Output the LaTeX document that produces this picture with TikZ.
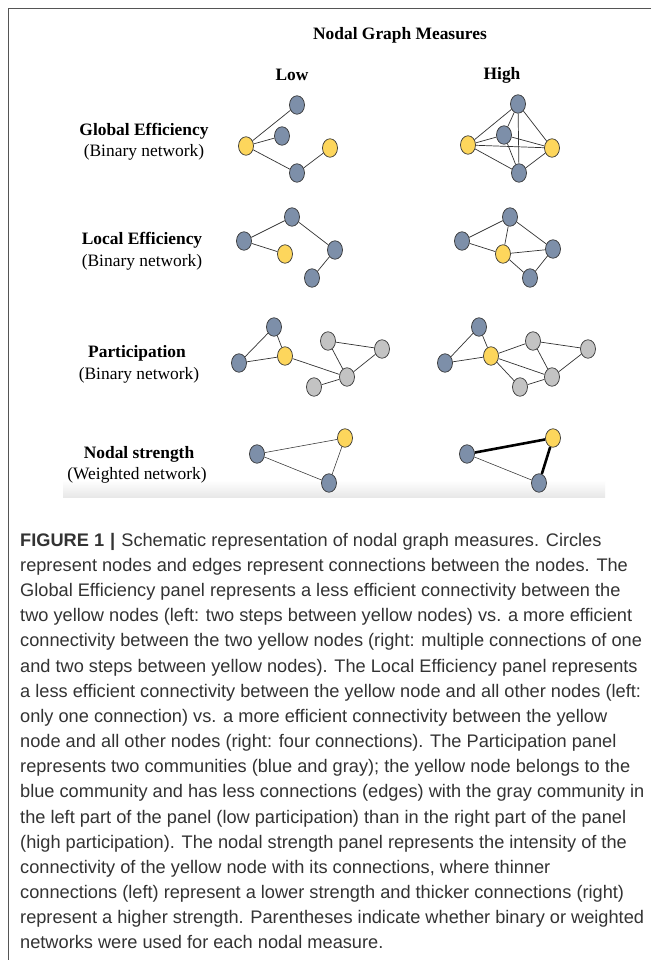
\documentclass[tikz,border=0pt]{standalone}
\usepackage{fontspec}
\setmainfont{Liberation Serif}
\newfontfamily\capfont{Liberation Sans}
\usetikzlibrary{shapes.geometric,backgrounds}
\pgfdeclarelayer{bottomlayer}
\pgfsetlayers{bottomlayer,background,main}
\definecolor{nblue}{HTML}{7D8FA9}
\definecolor{nyellow}{HTML}{FDD65C}
\definecolor{ngray}{HTML}{C3C3C3}
\definecolor{nline}{HTML}{333333}
\definecolor{captxt}{HTML}{333333}
\definecolor{framec}{HTML}{555555}
\begin{document}
\begin{tikzpicture}[x=1pt,y=-1pt,
  vtx/.style={shape=ellipse,minimum width=15pt,minimum height=18.5pt,inner sep=0pt,draw=nline,line width=0.7pt},
  bnode/.style={vtx,fill=nblue},
  ynode/.style={vtx,fill=nyellow},
  gnode/.style={vtx,fill=ngray},
  edge/.style={draw=nline,line width=0.7pt},
  thinedge/.style={draw=nline,line width=0.55pt},
  thickedge/.style={draw=black,line width=2.6pt},
  head/.style={font=\fontsize{17.4}{20}\selectfont\bfseries,inner sep=0pt},
  sub/.style={font=\fontsize{17.4}{20}\selectfont,inner sep=0pt},
  captext/.style={font=\capfont\fontsize{18.2}{25.15}\selectfont,text=captxt,align=left,inner sep=0pt,anchor=north west}]
\useasboundingbox (0,0) rectangle (651,960);
\begin{pgfonlayer}{bottomlayer}
\fill[white] (0,0) rectangle (651,960);
\shade[top color=white,bottom color=black!9] (63,480) rectangle (605,497);
\end{pgfonlayer}
\draw[framec,line width=1.3pt] (651,8.5) -- (8.5,8.5) -- (8.5,960);

% headings
\node[head] (title) at (400,35) {Nodal Graph Measures};
\node[head] (low) at (292,75) {Low};
\node[head] (high) at (502,75) {High};

\node[head] (geh) at (144,131) {Global Efficiency};
\node[sub] (ges) at (144,152) {(Binary network)};
\node[head] (leh) at (142,240) {Local Efficiency};
\node[sub] (les) at (142,262) {(Binary network)};
\node[head] (pah) at (137,353) {Participation};
\node[sub] (pas) at (139,375) {(Binary network)};
\node[head] (nsh) at (139,454) {Nodal strength};
\node[sub] (nss) at (137,475) {(Weighted network)};

% Global efficiency low
\node[bnode] (gl1) at (297,105) {};
\node[bnode] (gl2) at (282,136) {};
\node[ynode] (gl3) at (246,146) {};
\node[ynode] (gl4) at (330,148) {};
\node[bnode] (gl5) at (297,173) {};
% Global efficiency high
\node[bnode] (gh1) at (518,104) {};
\node[bnode] (gh2) at (504,135) {};
\node[ynode] (gh3) at (468,145) {};
\node[ynode] (gh4) at (552,148) {};
\node[bnode] (gh5) at (519,173) {};
% Local efficiency low
\node[bnode] (ll1) at (292,217) {};
\node[bnode] (ll2) at (244,241) {};
\node[ynode] (ll3) at (285,254) {};
\node[bnode] (ll4) at (335,250) {};
\node[bnode] (ll5) at (312,278) {};
% Local efficiency high
\node[bnode] (lh1) at (510,217) {};
\node[bnode] (lh2) at (462,241) {};
\node[ynode] (lh3) at (503,254) {};
\node[bnode] (lh4) at (553,249) {};
\node[bnode] (lh5) at (530,278) {};
% Participation low
\node[bnode] (pl1) at (274,327) {};
\node[bnode] (pl2) at (239,363) {};
\node[ynode] (pl3) at (285,356) {};
\node[gnode] (pl4) at (328,341) {};
\node[gnode] (pl5) at (382,349) {};
\node[gnode] (pl6) at (347,377) {};
\node[gnode] (pl7) at (314,387) {};
% Participation high
\node[bnode] (ph1) at (479,327) {};
\node[bnode] (ph2) at (445,363) {};
\node[ynode] (ph3) at (491,356) {};
\node[gnode] (ph4) at (533,341) {};
\node[gnode] (ph5) at (588,349) {};
\node[gnode] (ph6) at (552,377) {};
\node[gnode] (ph7) at (520,387) {};
% Nodal strength low
\node[bnode] (nl1) at (257,454) {};
\node[ynode] (nl2) at (345,438) {};
\node[bnode] (nl3) at (329,483) {};
% Nodal strength high
\node[bnode] (nh1) at (467,454) {};
\node[ynode] (nh2) at (553,438) {};
\node[bnode] (nh3) at (539,483) {};

\begin{pgfonlayer}{background}
\path[edge] (gl3) -- (gl1) (gl3) -- (gl2) (gl3) -- (gl5) (gl5) -- (gl4);
\path[edge] (gh1) -- (gh2) (gh1) -- (gh3) (gh1) -- (gh4) (gh1) -- (gh5)
  (gh2) -- (gh3) (gh2) -- (gh4) (gh2) -- (gh5) (gh3) -- (gh4) (gh3) -- (gh5) (gh4) -- (gh5);
\path[edge] (ll2) -- (ll1) (ll2) -- (ll3) (ll1) -- (ll4) (ll4) -- (ll5);
\path[edge] (lh2) -- (lh1) (lh2) -- (lh3) (lh1) -- (lh3) (lh1) -- (lh4) (lh3) -- (lh4) (lh3) -- (lh5) (lh4) -- (lh5);
\path[edge] (pl2) -- (pl1) (pl2) -- (pl3) (pl1) -- (pl3) (pl3) -- (pl6) (pl4) -- (pl5) (pl4) -- (pl6) (pl5) -- (pl6) (pl6) -- (pl7);
\path[edge] (ph2) -- (ph1) (ph2) -- (ph3) (ph1) -- (ph3) (ph3) -- (ph4) (ph3) -- (ph6) (ph3) -- (ph7) (ph4) -- (ph5) (ph4) -- (ph6) (ph5) -- (ph6) (ph6) -- (ph7);
\path[thinedge] (nl1) -- (nl2) (nl2) -- (nl3) (nl1) -- (nl3);
\path[thinedge] (nh1) -- (nh3);
\path[thickedge] (nh1) -- (nh2) (nh2) -- (nh3);
\end{pgfonlayer}

% caption
\node[captext] (cap) at (20,533) {{\bfseries FIGURE 1\,\,|}\,\,Schematic representation of nodal graph measures. Circles\\
represent nodes and edges represent connections between the nodes. The\\
Global Efficiency panel represents a less efficient connectivity between the\\
two yellow nodes (left: two steps between yellow nodes) vs. a more efficient\\
connectivity between the two yellow nodes (right: multiple connections of one\\
and two steps between yellow nodes). The Local Efficiency panel represents\\
a less efficient connectivity between the yellow node and all other nodes (left:\\
only one connection) vs. a more efficient connectivity between the yellow\\
node and all other nodes (right: four connections). The Participation panel\\
represents two communities (blue and gray); the yellow node belongs to the\\
blue community and has less connections (edges) with the gray community in\\
the left part of the panel (low participation) than in the right part of the panel\\
(high participation). The nodal strength panel represents the intensity of the\\
connectivity of the yellow node with its connections, where thinner\\
connections (left) represent a lower strength and thicker connections (right)\\
represent a higher strength. Parentheses indicate whether binary or weighted\\
networks were used for each nodal measure.};
\end{tikzpicture}
\end{document}
